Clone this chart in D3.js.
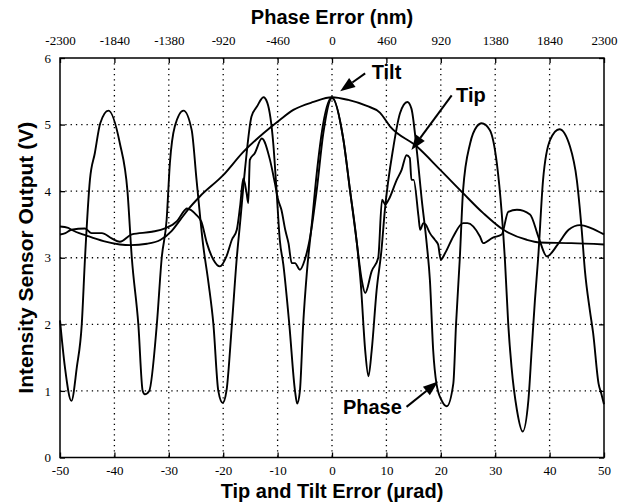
<!DOCTYPE html>
<html lang="en">

<head>
  <meta charset="UTF-8">
  <script src="https://d3js.org/d3.v7.min.js"></script>
  <style>
    body { margin: 0; background: #fff; }
  </style>
</head>

<body>

  <script>
    // values: [x (urad), y (V)]
    const phase = [
      [-50, 2.06], [-49.1, 1.36], [-47.9, 0.85], [-46.9, 1.36], [-46.0, 2.0], [-45.4, 3.0],
      [-44.5, 4.17], [-43.6, 4.57], [-42.6, 5.02], [-41.1, 5.21], [-39.0, 4.72], [-37.6, 4.0],
      [-36.8, 3.0], [-35.6, 2.0], [-34.8, 1.0], [-34.4, 0.95], [-33.6, 1.0], [-32.2, 2.0],
      [-31.3, 3.0], [-30.4, 3.57], [-29.8, 4.42], [-28.9, 4.97], [-27.3, 5.21], [-25.8, 4.92],
      [-24.9, 4.17], [-23.7, 3.2], [-22.7, 2.62], [-21.8, 2.0], [-20.9, 1.0], [-20.1, 0.82],
      [-19.4, 1.0], [-18.4, 2.0], [-17.5, 3.0], [-16.9, 3.52], [-16.0, 4.32], [-14.8, 5.12],
      [-13.8, 5.27], [-12.6, 5.41], [-11.9, 5.33], [-10.8, 4.72], [-10.2, 4.02], [-9.6, 3.27],
      [-8.95, 2.9], [-7.85, 2.0], [-6.8, 1.0], [-6.4, 0.81], [-5.9, 1.0], [-5.3, 2.0],
      [-4.6, 2.8], [-3.7, 3.52], [-2.8, 4.27], [-1.6, 5.02], [0, 5.41], [2.1, 4.77],
      [3.3, 4.02], [4.5, 3.27], [5.3, 2.6], [6.1, 1.61], [6.7, 1.22], [7.3, 1.61],
      [8.2, 2.51], [9.1, 3.12], [9.7, 3.7], [11.3, 4.67], [12.5, 5.17], [13.85, 5.34],
      [14.6, 5.24], [15.6, 4.6], [16.5, 3.87], [17.4, 3.22], [18.0, 2.66], [18.6, 1.61],
      [19.2, 1.11], [20.2, 0.85], [21.1, 0.77], [22.3, 1.11], [22.8, 2.0], [23.5, 3.0],
      [24.1, 4.02], [25.4, 4.72], [26.6, 4.97], [27.5, 5.02], [29.0, 4.92], [30.3, 4.42],
      [31.2, 3.67], [31.8, 2.95], [32.4, 2.0], [33.0, 1.36], [34.0, 0.71], [35.05, 0.39],
      [36.1, 0.86], [36.7, 1.61], [37.3, 2.36], [37.9, 3.0], [38.8, 4.17], [40.1, 4.77],
      [41.8, 4.93], [43.75, 4.67], [45.0, 4.17], [45.9, 3.42], [46.5, 2.8], [47.4, 2.21],
      [48.0, 1.87], [49.0, 1.11], [49.5, 0.96], [50, 0.8]
    ];

    const tilt = [
      [-50, 3.47], [-48.5, 3.45], [-47.9, 3.42], [-45, 3.33], [-42, 3.25], [-39, 3.2],
      [-37, 3.19], [-34, 3.21], [-31.5, 3.27], [-29.5, 3.4], [-27.9, 3.57], [-26.5, 3.72],
      [-24.3, 3.92], [-20, 4.24], [-16.3, 4.59], [-12.6, 4.87], [-9.6, 5.07], [-7.1, 5.22],
      [-3.4, 5.34], [0, 5.41], [3, 5.37], [6.4, 5.28], [8.8, 5.18], [10.7, 4.97],
      [15.6, 4.67], [19.9, 4.32], [24.1, 3.97], [27.8, 3.67], [31.5, 3.42], [35.8, 3.27],
      [38.2, 3.23], [44, 3.22], [50, 3.2]
    ];

    const tip = [
      [-50, 3.35], [-49, 3.37], [-47.9, 3.42], [-45.4, 3.44], [-44.2, 3.37], [-42.3, 3.37],
      [-40.5, 3.29], [-39, 3.24], [-36.8, 3.35], [-33.1, 3.39], [-30.7, 3.44], [-28.5, 3.55],
      [-27, 3.72], [-26.7, 3.74], [-24.9, 3.64], [-24, 3.54], [-23, 3.22], [-21.8, 2.97],
      [-20.6, 2.87], [-19.4, 3.02], [-18.4, 3.27], [-17.5, 3.42], [-16.9, 3.77], [-16.3, 4.19],
      [-15.7, 3.97], [-15.4, 3.82], [-15.1, 4.47], [-14.2, 4.57], [-12.9, 4.79], [-11.4, 4.47],
      [-10.5, 4.12], [-9.9, 3.87], [-9.3, 3.72], [-8.6, 3.42], [-8.0, 3.22], [-7.4, 2.92],
      [-6.8, 2.92], [-5.9, 2.82], [-5.0, 2.97], [-4.0, 3.32], [-2.8, 4.02], [-1.6, 4.87],
      [0, 5.4], [2.1, 4.77], [3.3, 4.02], [4.5, 3.27], [5.5, 2.65], [6.1, 2.47],
      [7.3, 2.8], [8.5, 3.0], [9.2, 3.87], [9.8, 3.8], [10.4, 3.87], [11.9, 4.17],
      [12.8, 4.32], [13.7, 4.54], [14.3, 4.5], [14.6, 4.17], [15.0, 4.17], [15.9, 3.62],
      [16.2, 3.42], [16.8, 3.52], [17.2, 3.5], [18.0, 3.37], [18.9, 3.27], [19.5, 3.2],
      [20.0, 2.97], [20.8, 3.07], [22.3, 3.32], [24.1, 3.52], [24.9, 3.52], [27.2, 3.32],
      [27.8, 3.22], [29.5, 3.3], [31.2, 3.35], [32.4, 3.69], [34, 3.72], [36.4, 3.65],
      [38, 3.3], [39.5, 3.02], [41.5, 3.2], [43.5, 3.42], [45.6, 3.49], [47.5, 3.45],
      [50, 3.35]
    ];

    const xTicks = [-50, -40, -30, -20, -10, 0, 10, 20, 30, 40, 50];
    const topTicks = [-2300, -1840, -1380, -920, -460, 0, 460, 920, 1380, 1840, 2300];
    const yTicks = [0, 1, 2, 3, 4, 5, 6];

    // annotations in data units: text anchor, arrow tail, arrow tip
    const notes = [
      { label: "Tilt", text: [7.3, 5.69], from: [6.1, 5.77], to: [1.5, 5.5] },
      { label: "Tip", text: [22.8, 5.34], from: [22.0, 5.44], to: [14.6, 4.62] },
      { label: "Phase", text: [2.0, 0.66], from: [13.7, 0.76], to: [19.5, 1.14] }
    ];

    const width = 629;
    const height = 504;
    const margin = { top: 58, right: 25, bottom: 46.5, left: 60 };

    const svg = d3.select("body")
      .append("svg")
      .attr("width", width)
      .attr("height", height);

    const x = d3.scaleLinear()
      .domain([-50, 50])
      .range([margin.left, width - margin.right]);

    const xTop = d3.scaleLinear()
      .domain([-2300, 2300])
      .range([margin.left, width - margin.right]);

    const y = d3.scaleLinear()
      .domain([0, 6])
      .range([height - margin.bottom, margin.top]);

    const serif = "'Liberation Serif', 'Times New Roman', serif";
    const sans = "'Liberation Sans', Arial, Helvetica, sans-serif";

    // dotted grid
    svg.append("g")
      .selectAll("line")
      .data(xTicks.slice(1, -1))
      .join("line")
      .attr("x1", d => x(d)).attr("x2", d => x(d))
      .attr("y1", y(6)).attr("y2", y(0))
      .attr("stroke", "#000")
      .attr("stroke-width", 1.3)
      .attr("stroke-dasharray", "1.3,4");

    svg.append("g")
      .selectAll("line")
      .data(yTicks.slice(1, -1))
      .join("line")
      .attr("x1", x(-50)).attr("x2", x(50))
      .attr("y1", d => y(d)).attr("y2", d => y(d))
      .attr("stroke", "#000")
      .attr("stroke-width", 1.3)
      .attr("stroke-dasharray", "1.3,4");

    // axes, ticks pointing inward
    const styleAxis = g => {
      g.attr("font-family", serif).attr("font-size", 13);
      g.select(".domain").remove();
      g.selectAll(".tick line").attr("stroke", "#000").attr("stroke-width", 1.3);
      g.selectAll(".tick text")
        .attr("fill", "#000")
        .style("font-family", serif)
        .style("font-size", "13px");
    };

    svg.append("g")
      .attr("transform", `translate(0,${y(0)})`)
      .call(d3.axisBottom(x).tickValues(xTicks).tickSize(-5).tickPadding(8).tickFormat(d3.format("d")))
      .call(styleAxis);

    svg.append("g")
      .attr("transform", `translate(0,${y(6)})`)
      .call(d3.axisTop(xTop).tickValues(topTicks).tickSize(-5).tickPadding(13).tickFormat(d3.format("d")))
      .call(styleAxis);

    svg.append("g")
      .attr("transform", `translate(${x(-50)},0)`)
      .call(d3.axisLeft(y).tickValues(yTicks).tickSize(-5).tickPadding(9).tickFormat(d3.format("d")))
      .call(styleAxis);

    svg.append("g")
      .attr("transform", `translate(${x(50)},0)`)
      .call(d3.axisRight(y).tickValues(yTicks).tickSize(-5).tickFormat(""))
      .call(styleAxis);

    // hyphen instead of unicode minus, like the original
    svg.selectAll(".tick text").text(function () {
      return d3.select(this).text().replace("\u2212", "-");
    });

    // curves
    const line = d3.line()
      .x(d => x(d[0]))
      .y(d => y(d[1]))
      .curve(d3.curveMonotoneX);

    [tilt, tip, phase].forEach(s => {
      svg.append("path")
        .datum(s)
        .attr("d", line)
        .attr("fill", "none")
        .attr("stroke", "#000")
        .attr("stroke-width", 1.9)
        .attr("stroke-linejoin", "round");
    });

    // frame
    svg.append("rect")
      .attr("x", x(-50))
      .attr("y", y(6))
      .attr("width", x(50) - x(-50))
      .attr("height", y(0) - y(6))
      .attr("fill", "none")
      .attr("stroke", "#000")
      .attr("stroke-width", 1.5);

    // annotations with arrows
    notes.forEach(n => {
      const x1 = x(n.from[0]), y1 = y(n.from[1]);
      const x2 = x(n.to[0]), y2 = y(n.to[1]);
      const a = Math.atan2(y2 - y1, x2 - x1);
      const len = 15, half = 5.5;
      const bx = x2 - len * Math.cos(a), by = y2 - len * Math.sin(a);
      svg.append("line")
        .attr("x1", x1).attr("y1", y1)
        .attr("x2", bx).attr("y2", by)
        .attr("stroke", "#000")
        .attr("stroke-width", 2);
      svg.append("path")
        .attr("d", `M${x2},${y2}L${bx - half * Math.sin(a)},${by + half * Math.cos(a)}L${bx + half * Math.sin(a)},${by - half * Math.cos(a)}Z`)
        .attr("fill", "#000");
      svg.append("text")
        .attr("x", x(n.text[0]))
        .attr("y", y(n.text[1]))
        .style("font-family", sans)
        .style("font-weight", "bold")
        .style("font-size", "20px")
        .text(n.label);
    });

    // axis titles
    svg.append("text")
      .attr("x", (x(-50) + x(50)) / 2)
      .attr("y", 24)
      .attr("text-anchor", "middle")
      .style("font-family", sans)
      .style("font-weight", "bold")
      .style("font-size", "20px")
      .text("Phase Error (nm)");

    svg.append("text")
      .attr("x", (x(-50) + x(50)) / 2)
      .attr("y", 498)
      .attr("text-anchor", "middle")
      .style("font-family", sans)
      .style("font-weight", "bold")
      .style("font-size", "20px")
      .text("Tip and Tilt Error (\u03bcrad)");

    svg.append("text")
      .attr("transform", `translate(33,${(y(0) + y(6)) / 2}) rotate(-90)`)
      .attr("text-anchor", "middle")
      .style("font-family", sans)
      .style("font-weight", "bold")
      .style("font-size", "21px")
      .text("Intensity Sensor Output (V)");
  </script>
</body>

</html>
